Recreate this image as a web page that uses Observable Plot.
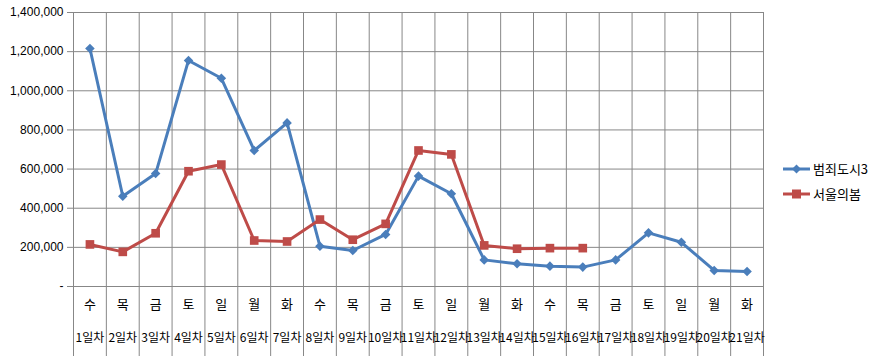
<!DOCTYPE html>
<html>
<head>
<meta charset="utf-8">
<script src="https://cdn.jsdelivr.net/npm/d3@7"></script>
<script src="https://cdn.jsdelivr.net/npm/@observablehq/plot@0.6"></script>
<style>
  html, body { margin: 0; padding: 0; background: #fff; }
  #wrap { position: relative; width: 885px; height: 356px; font-family: "Noto Sans CJK KR", "Liberation Sans", sans-serif; }
  #legend { position: absolute; left: 783px; top: 156px; font-size: 13px; color: #000; }
  .item { display: flex; align-items: center; height: 25px; }
  .item svg { margin-right: 3px; }
</style>
</head>
<body>
<div id="wrap"></div>
<script>
const days = [1,2,3,4,5,6,7,8,9,10,11,12,13,14,15,16,17,18,19,20,21];
const weekdays = ["수","목","금","토","일","월","화","수","목","금","토","일","월","화","수","목","금","토","일","월","화"];
const dayLabels = days.map(d => d + "일차");
const seriesNames = ["범죄도시3", "서울의봄"];
const crimeCity3 = [1216000,461000,577000,1155000,1064000,695000,836000,206000,184000,266000,564000,474000,136000,116000,104000,99000,136000,274000,226000,82000,77000];
const seoulSpring = [215000,177000,272000,589000,623000,235000,230000,342000,239000,320000,695000,675000,210000,193000,196000,196000];
const yTicks = [0,200000,400000,600000,800000,1000000,1200000,1400000];
const colors = ["#4A7EBB", "#BE4B48"];

const blue = crimeCity3.map((v, i) => ({day: days[i], value: v}));
const red = seoulSpring.map((v, i) => ({day: days[i], value: v}));
const edges = [days[0] - 0.5, ...days.map(d => d + 0.5)];
const grid = "#878787";

const chart = Plot.plot({
  width: 885,
  height: 356,
  marginLeft: 73,
  marginRight: 122,
  marginTop: 12,
  marginBottom: 70,
  style: {fontFamily: "'Liberation Sans', Arial, sans-serif", fontSize: "12px", color: "#000", background: "#fff"},
  x: {domain: [days[0] - 0.5, days[days.length - 1] + 0.5], label: null},
  y: {domain: [0, 1400000], label: null},
  marks: [
    Plot.ruleY(yTicks, {stroke: grid, strokeWidth: 1}),
    Plot.ruleX(edges, {stroke: grid, strokeWidth: 1, insetBottom: -70}),
    Plot.axisY({ticks: yTicks, tickSize: 6, tickPadding: 4, stroke: grid, strokeOpacity: 1, label: null,
      tickFormat: d => d === 0 ? "-" : d3.format(",")(d), fontSize: 12}),
    Plot.axisX({ticks: days, tickSize: 0, tickPadding: 13, tickFormat: d => weekdays[d - 1], label: null,
      fontFamily: "'Noto Sans CJK KR', sans-serif", fontSize: 13}),
    Plot.axisX({ticks: days, tickSize: 0, tickPadding: 47, tickFormat: d => dayLabels[d - 1], label: null,
      fontFamily: "'Noto Sans CJK KR', sans-serif", fontSize: 12}),
    Plot.line(blue, {x: "day", y: "value", stroke: colors[0], strokeWidth: 3}),
    Plot.dot(blue, {x: "day", y: "value", symbol: "diamond2", r: 4.3, fill: colors[0], stroke: "none"}),
    Plot.line(red, {x: "day", y: "value", stroke: colors[1], strokeWidth: 3}),
    Plot.dot(red, {x: "day", y: "value", symbol: "square2", r: 5.5, fill: colors[1], stroke: "none"})
  ]
});

const wrap = document.getElementById("wrap");
wrap.appendChild(chart);

const legend = document.createElement("div");
legend.id = "legend";
const symbols = [
  '<polygon points="13.5,1.5 18,6 13.5,10.5 9,6" fill="' + colors[0] + '"/>',
  '<rect x="9" y="1.5" width="9" height="9" fill="' + colors[1] + '"/>'
];
seriesNames.forEach((name, i) => {
  const item = document.createElement("div");
  item.className = "item";
  item.innerHTML = '<svg width="27" height="12"><line x1="0" x2="27" y1="6" y2="6" stroke="' + colors[i] + '" stroke-width="3"/>' + symbols[i] + '</svg><span>' + name + '</span>';
  legend.appendChild(item);
});
wrap.appendChild(legend);
</script>
</body>
</html>
